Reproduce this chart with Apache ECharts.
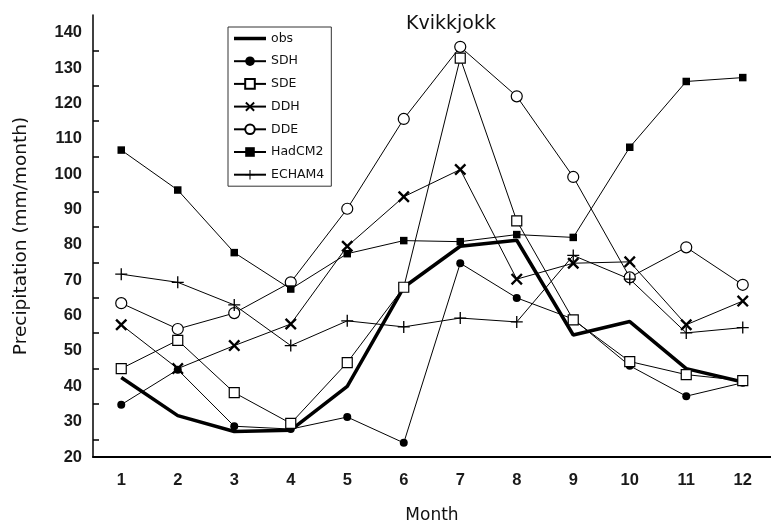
<!DOCTYPE html>
<html>
<head>
<meta charset="utf-8">
<script src="https://cdn.jsdelivr.net/npm/echarts@6/dist/echarts.min.js"></script>
<style>
  html, body { margin: 0; padding: 0; background: #fff; }
  #main { width: 771px; height: 529px; }
</style>
</head>
<body>
<div id="main"></div>
<script>
var months = ['1', '2', '3', '4', '5', '6', '7', '8', '9', '10', '11', '12'];

var obs    = [42.5, 31.7, 27.2, 27.6, 40.0, 68.0, 79.6, 81.3, 54.5, 58.3, 45.0, 41.2];
var sdh    = [34.8, 44.7, 28.7, 27.9, 31.3, 24.0, 74.8, 65.0, 59.0, 45.8, 37.2, 41.0];
var sde    = [45.0, 53.0, 38.2, 29.5, 46.7, 68.0, 132.8, 86.8, 58.8, 47.0, 43.3, 41.6];
var ddh    = [57.4, 45.0, 51.5, 57.6, 79.6, 93.6, 101.3, 70.3, 74.8, 75.2, 57.4, 64.1];
var dde    = [63.5, 56.2, 60.7, 69.4, 90.2, 115.6, 136.0, 122.0, 99.2, 70.8, 79.3, 68.7];
var hadcm2 = [106.8, 95.5, 77.8, 67.5, 77.5, 81.2, 80.9, 82.9, 82.1, 107.6, 126.2, 127.3];
var echam4 = [71.7, 69.4, 63.0, 51.5, 58.5, 56.8, 59.3, 58.2, 77.0, 70.3, 55.1, 56.6];

var yTicks = { min: 20, max: 145, step: 10 };

// cross shapes drawn as filled outlines
var xMark = 'path://M0,1.4L1.4,0L5,3.6L8.6,0L10,1.4L6.4,5L10,8.6L8.6,10L5,6.4L1.4,10L0,8.6L3.6,5Z';
var plusMark = 'path://M4.45,0H5.55V4.45H10V5.55H5.55V10H4.45V5.55H0V4.45H4.45Z';
var thickBar = 'path://M0,0H32V3.5H0Z';

var font = 'Liberation Sans, Arial, sans-serif';
var wide = 'DejaVu Sans, sans-serif';

function thin(name, data, symbol, size, fill, border) {
  return {
    name: name,
    type: 'line',
    data: data,
    symbol: symbol,
    symbolSize: size,
    showSymbol: true,
    lineStyle: { color: '#000', width: 1 },
    itemStyle: { color: fill, borderColor: '#000', borderWidth: border },
    emphasis: { disabled: true },
    z: 3
  };
}

var chart = echarts.init(document.getElementById('main'));

var option = {
  animation: false,
  backgroundColor: '#fff',
  title: {
    text: 'Kvikkjokk',
    left: 401,
    top: 10,
    textStyle: { fontFamily: wide, fontSize: 19, fontWeight: 'normal', color: '#111' }
  },
  legend: {
    orient: 'vertical',
    left: 228,
    top: 27,
    padding: [5, 7, 5, 5],
    borderColor: '#333',
    borderWidth: 1,
    itemWidth: 32,
    itemHeight: 12,
    itemGap: 9.7,
    textStyle: { fontFamily: wide, fontSize: 12.5, color: '#111' },
    data: [{ name: 'obs', icon: thickBar }, 'SDH', 'SDE', 'DDH', 'DDE', 'HadCM2', 'ECHAM4']
  },
  grid: { left: 93, top: 15, width: 690, bottom: 69 },
  xAxis: {
    type: 'category',
    data: months,
    boundaryGap: true,
    name: 'Month',
    nameLocation: 'middle',
    nameGap: 50,
    nameTextStyle: { fontFamily: wide, fontSize: 17, color: '#111' },
    axisLine: { lineStyle: { color: '#000', width: 2 } },
    axisTick: { alignWithLabel: true, length: 8, lineStyle: { color: '#000', width: 1.5 } },
    axisLabel: { margin: 15, fontFamily: font, fontSize: 16.5, fontWeight: 'bold', color: '#1a1a1a' },
    splitLine: { show: false }
  },
  yAxis: {
    type: 'value',
    min: yTicks.min,
    max: yTicks.max,
    interval: yTicks.step,
    name: 'Precipitation (mm/month)',
    nameLocation: 'middle',
    nameGap: 62,
    nameTextStyle: { fontFamily: wide, fontSize: 18.5, color: '#111' },
    axisLine: { show: true, lineStyle: { color: '#000', width: 1.5 } },
    axisTick: { inside: true, length: 10, lineStyle: { color: '#000', width: 1.5 } },
    minorTick: { show: true, splitNumber: 2, length: 6, lineStyle: { color: '#000', width: 1.5 } },
    axisLabel: {
      margin: 11, fontFamily: font, fontSize: 16.5, fontWeight: 'bold', color: '#1a1a1a',
      formatter: function (v) { return v % 10 === 0 ? String(v) : ''; }
    },
    splitLine: { show: false }
  },
  series: [
    {
      name: 'obs',
      type: 'line',
      data: obs,
      symbol: 'none',
      lineStyle: { color: '#000', width: 3.5 },
      itemStyle: { color: '#000' },
      emphasis: { disabled: true },
      z: 2
    },
    thin('SDH', sdh, 'circle', 8, '#000', 0),
    thin('SDE', sde, 'rect', 10, '#fff', 1.2),
    thin('DDH', ddh, xMark, 12, '#000', 0),
    thin('DDE', dde, 'circle', 11, '#fff', 1.2),
    thin('HadCM2', hadcm2, 'rect', 7.5, '#000', 0),
    thin('ECHAM4', echam4, plusMark, 12, '#000', 0)
  ]
};

option && chart.setOption(option);
</script>
</body>
</html>
